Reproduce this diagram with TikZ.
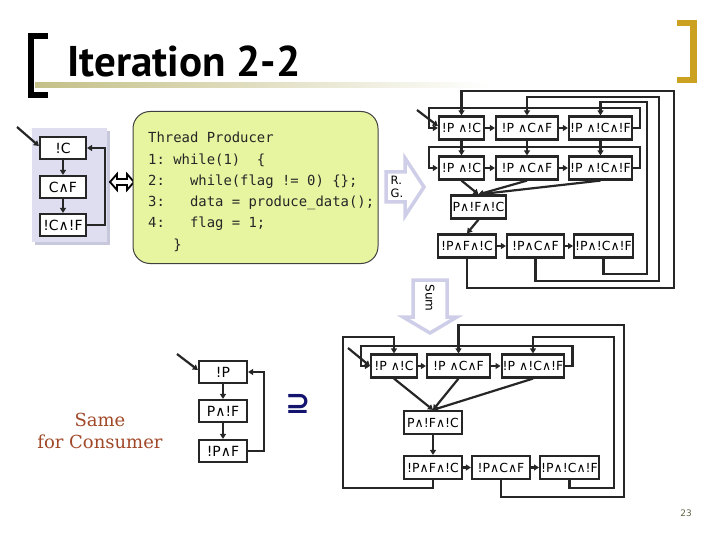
\documentclass[tikz,border=0pt]{standalone}
\usepackage{fontspec}
\usetikzlibrary{arrows.meta}
\newfontfamily\statefont{DejaVu Sans}
\newfontfamily\codefont{DejaVu Sans Mono}
\newfontfamily\titlefont{PT Sans}
\newfontfamily\notefont{DejaVu Serif}
\definecolor{ink}{RGB}{38,38,38}
\definecolor{gold}{RGB}{204,160,32}
\definecolor{khaki}{RGB}{196,192,136}
\definecolor{panel}{RGB}{222,222,240}
\definecolor{panelshadow}{RGB}{200,200,220}
\definecolor{codebg}{RGB}{232,245,160}
\definecolor{codeline}{RGB}{64,64,64}
\definecolor{lav}{RGB}{206,206,232}
\definecolor{sienna}{RGB}{160,72,40}
\definecolor{navy}{RGB}{20,20,110}
\definecolor{pagegray}{RGB}{100,100,70}
\tikzset{
  state/.style={draw=ink, line width=2.2pt, fill=white, inner xsep=1pt, inner ysep=0pt,
    minimum height=23pt, font=\statefont\fontsize{12.5}{13}\selectfont},
  bigstate/.style={state, minimum height=22pt, font=\statefont\fontsize{14}{14}\selectfont},
  arr/.style={draw=ink, line width=2.2pt, -{Triangle[length=5pt,width=6pt]}},
  blockarrow/.style={draw=lav, line width=3.5pt, fill=white, line join=miter},
  codebox/.style={draw=codeline, line width=1pt, fill=codebg, rounded corners=17pt},
  codetext/.style={inner sep=0pt, align=left, text=ink, font=\codefont\fontsize{13.9}{21.3}\selectfont},
}
\begin{document}
\begin{tikzpicture}[x=1pt,y=-1pt]
  \useasboundingbox (0,0) rectangle (720,540);
  \fill (28,33) rectangle (34,98);
  \fill (28,33) rectangle (48,39);
  \fill (28,92) rectangle (48,98);
  \fill[gold] (690,20) rectangle (697,83);
  \fill[gold] (677,20) rectangle (697,26);
  \fill[gold] (677,77) rectangle (697,83);
  \shade[left color=khaki, right color=white] (35,83) rectangle (490,88);
  \node[inner sep=0pt, anchor=base west, font=\titlefont\bfseries\fontsize{43}{43}\selectfont] (head) at (67,77) {Iteration 2-2};

  \fill[panelshadow] (35,131) rectangle (110,245);
  \fill[panel] (32,128) rectangle (107,242);
  \node[bigstate, minimum width=46pt] (nC) at (63,148) {!C};
  \node[bigstate, minimum width=46pt] (CF) at (63,187) {C∧F};
  \node[bigstate, minimum width=46pt] (nCnF) at (63,225) {!C∧!F};
  \coordinate (inC) at (17,127);
  \draw[arr] (inC) -- ([yshift=2pt]nC.west);
  \draw[arr] (nC) -- (CF);
  \draw[arr] (CF) -- (nCnF);
  \draw[arr] (nCnF.east) -- ++(18,0) |- (nC.east);

  \draw[line width=1.8pt, fill=white, line join=miter] (110,182) -- (117,174) -- (117,179) -- (127,179) -- (127,174)
    -- (134,182) -- (127,190) -- (127,185) -- (117,185) -- (117,190) -- cycle;

  \node[codebox, minimum width=245pt, minimum height=152pt] (code) at (255.5,187.5) {};
  \node[codetext, anchor=north west] (src) at (148,132) {Thread Producer\\1:~while(1)~~\{\\2:~~~while(flag~!=~0)~\{\};\\3:~~~data~=~produce\_data();\\4:~~~flag~=~1;\\~~~\}};

  \draw[blockarrow] (386,172) -- (405,172) -- (405,158) -- (424,187) -- (405,216) -- (405,202) -- (386,202) -- cycle;
  \node[align=left, inner sep=0pt, font=\statefont\fontsize{11.5}{13}\selectfont] (rg) at (397,187) {R.\\G.};

  \node[state, minimum width=45pt] (a1) at (461.5,128) {!P ∧!C};
  \node[state, minimum width=62pt] (a2) at (527,128) {!P ∧C∧F};
  \node[state, minimum width=63pt] (a3) at (600.5,128) {!P ∧!C∧!F};
  \node[state, minimum width=45pt] (b1) at (461.5,168) {!P ∧!C};
  \node[state, minimum width=62pt] (b2) at (527,168) {!P ∧C∧F};
  \node[state, minimum width=63pt] (b3) at (600.5,168) {!P ∧!C∧!F};
  \node[state, minimum width=55pt] (m) at (478.5,207) {P∧!F∧!C};
  \node[state, minimum width=58pt] (c1) at (467,246) {!P∧F∧!C};
  \node[state, minimum width=57pt] (c2) at (535.5,246) {!P∧C∧F};
  \node[state, minimum width=57pt] (c3) at (603.5,246) {!P∧!C∧!F};
  \coordinate (inA) at (417,110);
  \draw[arr] (inA) -- ([yshift=2pt]a1.west);
  \draw[arr] (a1) -- (a2);
  \draw[arr] (a2) -- (a3);
  \draw[arr] (b1) -- (b2);
  \draw[arr] (b2) -- (b3);
  \draw[arr] (c1) -- (c2);
  \draw[arr] (c2) -- (c3);
  \draw[arr] (a1) -- (b1);
  \draw[arr] (a2) -- (b2);
  \draw[arr] (a3) -- (b3);
  \draw[arr] (a3.east) -- ++(7,0) |- (429,108) |- (a1.west);
  \draw[arr] (b3.east) -- ++(7,0) |- (429,147) |- (b1.west);
  \draw[arr] (b1.south) -- (m.north);
  \draw[arr] (b2.south) -- (m.north);
  \draw[arr] (b3.south) -- (m.north);
  \draw[arr] (m.south) -- (c1.north);
  \draw[arr] (c1.south) |- (674,288) -- (674,91) -| (a1.north);
  \draw[arr] (c2.south) |- (659,281) -- (659,97) -| (a2.north);
  \draw[arr] (c3.south) |- (647,274) -- (647,102) -| (a3.north);

  \draw[blockarrow] (413,280) -- (447,280) -- (447,317) -- (457,317) -- (430,333) -- (403,317) -- (413,317) -- cycle;
  \node[rotate=-90, inner sep=0pt, font=\statefont\fontsize{12}{13}\selectfont] (sum) at (430,298) {Sum};

  \node[state, minimum width=46pt] (d1) at (394,366) {!P ∧!C};
  \node[state, minimum width=63pt] (d2) at (458.5,366) {!P ∧C∧F};
  \node[state, minimum width=62pt] (d3) at (533,366) {!P ∧!C∧!F};
  \node[state, minimum width=58pt] (m2) at (433,422.5) {P∧!F∧!C};
  \node[state, minimum width=58pt] (e1) at (433,467.5) {!P∧F∧!C};
  \node[state, minimum width=58pt] (e2) at (501,467.5) {!P∧C∧F};
  \node[state, minimum width=57pt] (e3) at (569.5,467.5) {!P∧!C∧!F};
  \coordinate (inD) at (348,348);
  \draw[arr] (inD) -- (d1.west);
  \draw[arr] (d1) -- (d2);
  \draw[arr] (d2) -- (d3);
  \draw[arr] (e1) -- (e2);
  \draw[arr] (e2) -- (e3);
  \draw[arr] (d3.east) -- ++(7,0) |- (361,346) |- (d1.west);
  \draw[arr] (d1.south) -- (m2.north);
  \draw[arr] (d2.south) -- (m2.north);
  \draw[arr] (d3.south) -- (m2.north);
  \draw[arr] (m2) -- (e1);
  \draw[arr] (e1.south) |- (343,488) -- (343,337) -| (d1.north);
  \draw[arr] (e2.south) |- (624,497) -- (624,325) -| (d2.north);
  \draw[arr] (e3.south) |- (614,488) -- (614,337) -| (d3.north);

  \node[bigstate, minimum width=48pt] (nP) at (223,372) {!P};
  \node[bigstate, minimum width=48pt] (PnF) at (223,411) {P∧!F};
  \node[bigstate, minimum width=48pt] (nPF) at (223,451) {!P∧F};
  \coordinate (inP) at (177,354);
  \draw[arr] (inP) -- ([yshift=2pt]nP.west);
  \draw[arr] (nP) -- (PnF);
  \draw[arr] (PnF) -- (nPF);
  \draw[arr] (nPF.east) -- ++(16,0) |- (nP.east);

  \node[align=center, text=sienna, font=\notefont\fontsize{18}{22}\selectfont] (same) at (100,431) {Same\\for Consumer};
  \node[text=navy, font=\statefont\bfseries\fontsize{30}{30}\selectfont] (incl) at (298,404) {⊇};
  \node[text=pagegray, font=\statefont\fontsize{9}{9}\selectfont] (page) at (686,513) {23};
\end{tikzpicture}
\end{document}
